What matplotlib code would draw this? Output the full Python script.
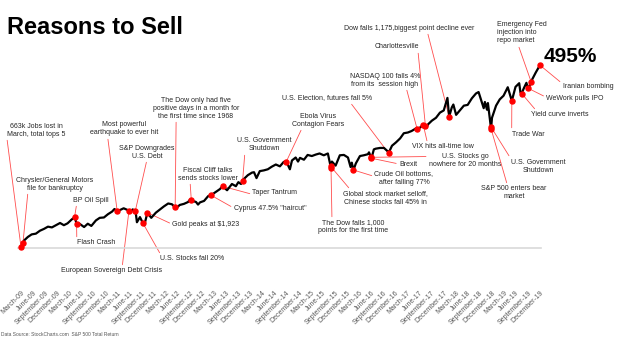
import numpy as np
import pandas as pd
import matplotlib
matplotlib.use('Agg')
import matplotlib.pyplot as plt
import matplotlib.dates as mdates

plt.rcParams['font.family'] = ['Liberation Sans', 'DejaVu Sans']

# S&P 500 total return since the March 2009 low, in percent
dates = ['2009-03-09','2009-03-31','2009-04-30','2009-05-29','2009-06-30','2009-07-31','2009-08-31',
         '2009-09-30','2009-10-30','2009-11-30','2009-12-31','2010-01-29','2010-02-26','2010-03-31',
         '2010-04-23','2010-05-06','2010-05-28','2010-07-02','2010-07-30','2010-08-26','2010-09-30',
         '2010-10-29','2010-11-30','2010-12-31','2011-01-31','2011-02-18','2011-03-16','2011-03-31',
         '2011-04-29','2011-05-31','2011-06-16','2011-07-07','2011-07-29','2011-08-08','2011-08-31',
         '2011-09-22','2011-10-03','2011-10-27','2011-11-25','2011-12-30','2012-01-31','2012-02-29',
         '2012-04-02','2012-04-30','2012-06-01','2012-06-29','2012-07-31','2012-08-31','2012-09-14',
         '2012-10-31','2012-11-15','2012-11-30','2012-12-31','2013-01-31','2013-02-28','2013-03-28',
         '2013-04-30','2013-05-21','2013-06-24','2013-07-31','2013-08-30','2013-09-18','2013-10-08',
         '2013-10-31','2013-11-29','2013-12-31','2014-01-15','2014-02-03','2014-02-28','2014-03-31',
         '2014-04-30','2014-05-30','2014-06-30','2014-07-31','2014-08-29','2014-09-18','2014-10-15',
         '2014-10-31','2014-11-28','2014-12-16','2014-12-31','2015-01-30','2015-02-27','2015-03-31',
         '2015-04-30','2015-05-29','2015-06-30','2015-07-31','2015-08-24','2015-08-31','2015-09-28',
         '2015-10-30','2015-11-30','2015-12-31','2016-01-20','2016-01-29','2016-02-11','2016-02-29',
         '2016-03-31','2016-04-29','2016-05-31','2016-06-08','2016-06-27','2016-07-15','2016-07-29',
         '2016-08-31','2016-09-30','2016-10-31','2016-11-04','2016-11-30','2016-12-30','2017-01-31',
         '2017-02-28','2017-03-31','2017-04-28','2017-05-31','2017-06-09','2017-06-30','2017-07-26',
         '2017-08-21','2017-08-31','2017-09-29','2017-10-31','2017-11-30','2017-12-29','2018-01-26',
         '2018-02-08','2018-02-28','2018-03-12','2018-04-02','2018-04-30','2018-05-31','2018-06-29',
         '2018-07-31','2018-08-31','2018-09-20','2018-10-29','2018-11-07','2018-11-23','2018-11-30',
         '2018-12-24','2018-12-31','2019-01-31','2019-02-28','2019-03-29','2019-04-30','2019-05-31',
         '2019-06-28','2019-07-26','2019-08-05','2019-08-14','2019-08-30','2019-09-19','2019-10-02',
         '2019-10-31','2019-11-29','2019-12-31']
ret = [0,18,28,35,37,45,50,
       56,54,60,66,60,65,76,
       82,62,64,55,64,58,73,
       80,81,90,97,104,96,101,
       106,101,95,103,97,68,82,
       66,60,94,80,94,103,111,
       119,117,106,115,118,123,129,
       123,116,122,126,139,143,150,
       158,166,155,172,166,177,172,
       186,196,203,204,188,207,209,
       212,219,225,220,232,233,212,
       236,244,233,243,238,251,248,
       252,255,250,255,215,233,222,
       250,251,244,218,230,210,228,
       248,250,253,258,242,266,268,
       270,270,260,256,276,285,296,
       310,312,316,323,322,325,333,
       326,334,344,352,366,372,406,
       355,380,388,360,372,385,387,
       405,418,422,378,395,374,392,
       322,352,385,402,412,435,398,
       436,446,420,418,432,447,430,
       455,475,495]

event_labels = ['663k Jobs lost in\nMarch, total tops 5',
                'Chrysler/General Motors\nfile for bankruptcy',
                'BP Oil Spill',
                'Flash Crash',
                'Most powerful\nearthquake to ever hit',
                'S&P Downgrades\nU.S. Debt',
                'European Sovereign Debt Crisis',
                'Gold peaks at $1,923',
                'U.S. Stocks fall 20%',
                'The Dow only had five\npositive days in a month for\nthe first time since 1968',
                'Fiscal Cliff talks\nsends stocks lower',
                'Cyprus 47.5% "haircut"',
                'Taper Tantrum',
                'U.S. Government\nShutdown',
                'Ebola Virus\nContagion Fears',
                'The Dow falls 1,000\npoints for the first time',
                'Global stock market selloff,\nChinese stocks fall 45% in',
                'Crude Oil bottoms,\nafter falling 77%',
                'Brexit',
                'U.S. Stocks go\nnowhere for 20 months',
                'U.S. Election, futures fall 5%',
                'NASDAQ 100 falls 4%\nfrom its  session high',
                'VIX hits all-time low',
                'Charlottesville',
                'Dow falls 1,175,biggest point decline ever',
                'S&P 500 enters bear\nmarket',
                'U.S. Government\nShutdown',
                'Trade War',
                'Yield curve inverts',
                'WeWork pulls IPO',
                'Emergency Fed\ninjection into\nrepo market',
                'Iranian bombing']
event_dates = ['2009-03-09','2009-03-24','2010-04-20','2010-05-06','2011-03-11','2011-07-26',
               '2011-06-08','2011-10-27','2011-09-22','2012-05-25','2012-09-25','2013-02-20',
               '2013-05-22','2013-10-20','2014-09-18','2015-08-24','2015-08-21','2016-02-11',
               '2016-06-27','2016-06-24','2016-11-04','2017-06-09','2017-07-26','2017-08-12',
               '2018-02-08','2018-12-24','2018-12-22','2019-05-31','2019-08-14','2019-09-30',
               '2019-10-25','2019-12-31']

# label centre in pixels (from top left) and where the red line meets the text box
label_pos = [(36,130,0,0),(55,184,0.15,0),(91,200,0.1,0),(96,243,0,0.8),(124,129,0.26,0),
             (147,152,0.5,0),(112,271,0.6,1),(206,225,0,0.6),(192,259,0.02,1),(196,108,0.27,0),
             (208,174,0.2,0),(270,208,0,0.5),(275,193,0,0.3),(264,145,0.15,0),(318,120,0.2,0),
             (353,227,0.2,1),(385,198,0.1,1),(404,178,0,0.6),(408,164,0,0.5),(465,161,0,0.8),
             (327,98,0.75,0),(385,80,0.8,0),(443,147,0.25,1),(397,47,0.97,0),(409,28,0.64,0),
             (514,193,0.4,1),(538,166,0,1),(528,134,0,1),(560,115,0.1,1),(575,98,0,0.6),
             (522,33,0.42,0),(588,86,0,0.8)]

quarters = ['March','June','September','December']
tick_labels = [q + '-' + str(y)[2:] for y in range(2009, 2020) for q in quarters]

x = mdates.date2num(pd.to_datetime(dates))
ex = mdates.date2num(pd.to_datetime(event_dates))
ey = np.interp(ex, x, ret)

W, H = 625, 346
fig = plt.figure(figsize=(W/100, H/100), dpi=100)
ax = fig.add_axes([18/W, 1-248/H, 523/W, 238/H])
ax.plot(x, ret, color='black', lw=1.6, solid_joinstyle='round', zorder=3)
ax.plot(ex, ey, 'o', color='#ff0000', ms=3.6, zorder=4, clip_on=False)
ax.set_xlim(x[0]-23, x[-1]+8)
ax.set_ylim(-2, 645)

ax.set_xticks(np.linspace(x[0], x[-1], len(tick_labels)))
ax.set_xticklabels(tick_labels, rotation=45, ha='right', va='top', rotation_mode='anchor',
                   fontsize=5, color='#595959')
ax.tick_params(axis='x', length=0, pad=30)
ax.set_yticks([])
for s in ['top', 'right', 'left']:
    ax.spines[s].set_visible(False)
ax.spines['bottom'].set_color('#d9d9d9')
ax.spines['bottom'].set_linewidth(1.2)

for lab, xx, yy, (tx, ty, rx, ry) in zip(event_labels, ex, ey, label_pos):
    ma = 'left' if lab.startswith('Emergency') else 'center'
    ax.annotate(lab, xy=(xx, yy), xycoords='data', xytext=(tx, H-ty), textcoords='figure pixels',
                ha='center', va='center', multialignment=ma, fontsize=5, color='#262626',
                annotation_clip=False, zorder=2,
                arrowprops=dict(arrowstyle='-', color='#ff4d4d', lw=0.6, relpos=(rx, ry),
                                shrinkA=0, shrinkB=0))

fig.text(7/W, 1-34/H, 'Reasons to Sell', fontsize=17, fontweight='bold', va='baseline')
fig.text(570/W, 1-57/H, '495%', fontsize=15, fontweight='bold', ha='center', va='center')
fig.text(1/W, 1-335/H, 'Data Source: StockCharts.com  S&P 500 Total Return', fontsize=3.5,
         color='#555555', va='center')

fig.savefig('out.png', dpi=100)
